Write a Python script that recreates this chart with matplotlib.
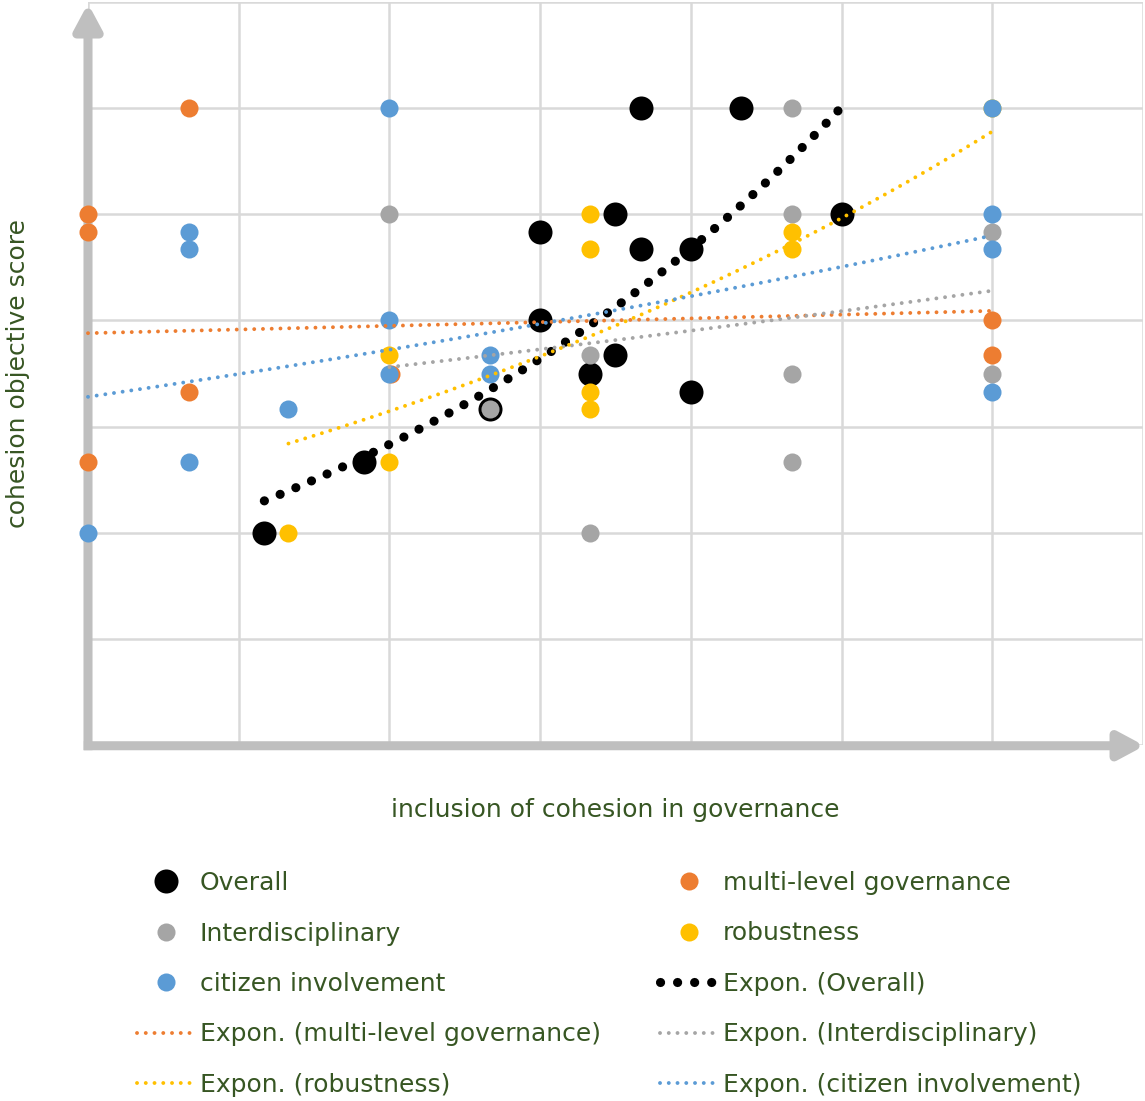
import numpy as np
import matplotlib.pyplot as plt
from matplotlib.lines import Line2D

# ---------------------------------------------------------------
# Data (both axes in units of 1/6)
# ---------------------------------------------------------------
overall_x = [1.17, 1.83, 3.0, 3.0, 3.33, 3.5, 3.5, 3.67, 3.67, 4.0, 4.0, 4.33, 5.0, 2.67]
overall_y = [2.0, 2.67, 4.83, 4.0, 3.5, 3.67, 5.0, 6.0, 4.67, 4.67, 3.33, 6.0, 5.0, 3.17]

multilevel_x = [0.67, 0.0, 0.0, 0.67, 0.0, 2.01, 6.0, 6.0]
multilevel_y = [6.0, 5.0, 4.83, 3.33, 2.67, 3.5, 4.0, 3.67]

interdisc_x = [4.67, 2.0, 4.67, 6.0, 3.33, 4.67, 6.0, 2.67, 4.67, 3.33]
interdisc_y = [6.0, 5.0, 5.0, 4.83, 3.67, 3.5, 3.5, 3.17, 2.67, 2.0]

robust_x = [3.33, 3.33, 4.67, 4.67, 2.0, 3.33, 3.33, 2.0, 1.33, 6.0]
robust_y = [5.0, 4.67, 4.83, 4.67, 3.67, 3.33, 3.17, 2.67, 2.0, 6.0]

citizen_x = [2.0, 6.0, 0.67, 0.67, 6.0, 6.0, 2.0, 2.0, 2.67, 2.67, 1.33, 0.67, 0.0, 6.0]
citizen_y = [6.0, 6.0, 4.83, 4.67, 5.0, 4.67, 4.0, 3.5, 3.67, 3.5, 3.17, 2.67, 2.0, 3.33]

series_names = ["Overall", "multi-level governance", "Interdisciplinary",
                "robustness", "citizen involvement"]
series_x = [overall_x, multilevel_x, interdisc_x, robust_x, citizen_x]
series_y = [overall_y, multilevel_y, interdisc_y, robust_y, citizen_y]
series_colors = ["#000000", "#ED7D31", "#A5A5A5", "#FFC000", "#5B9BD5"]

# exponential trendlines as shown in the chart (start / end values, same series order)
trend_x0 = [1.17, 0.0, 2.0, 1.33, 0.0]
trend_x1 = [5.0, 6.0, 6.0, 6.0, 6.0]
trend_y0 = [2.30, 3.88, 3.56, 2.84, 3.28]
trend_y1 = [6.01, 4.09, 4.28, 5.78, 4.80]

text_color = "#375623"
grid_color = "#D9D9D9"
axis_color = "#BFBFBF"

W, H = 1145, 1101
fig = plt.figure(figsize=(W / 100, H / 100), dpi=100)
ax = fig.add_axes([88 / W, (H - 745) / H, (1143 - 88) / W, (745 - 2) / H])
ax.set_xlim(0, 7)
ax.set_ylim(0, 7)
ax.set_xticks(range(8))
ax.set_yticks(range(8))
ax.tick_params(length=0, labelbottom=False, labelleft=False)
ax.grid(True, color=grid_color, linewidth=1.8)
ax.set_axisbelow(True)
for sp in ax.spines.values():
    sp.set_visible(False)

# axis arrows
arrow_kw = dict(arrowstyle="-|>,head_length=0.58,head_width=0.31", color=axis_color,
                lw=6.5, shrinkA=0, shrinkB=0, mutation_scale=26, capstyle="butt",
                joinstyle="round")
ax.annotate("", xy=(0, 0.998), xytext=(0, -0.007), xycoords="axes fraction",
            arrowprops=arrow_kw, annotation_clip=False, zorder=1)
ax.annotate("", xy=(1.0015, -0.001), xytext=(-0.004, -0.001), xycoords="axes fraction",
            arrowprops=arrow_kw, annotation_clip=False, zorder=1)


def trend_style(name):
    if name == "Overall":
        return dict(lw=6.6, gap=1.85)
    return dict(lw=2.8, gap=2.24)


# scatter points
for i, (name, xs, ys, col) in enumerate(zip(series_names, series_x, series_y, series_colors)):
    size = 17.3 if name == "Overall" else 13.0
    ax.plot(xs, ys, ls="none", marker="o", markersize=size, color=col,
            markeredgewidth=0, clip_on=False, zorder=3 + i)

# exponential trendlines
for i, (name, col) in enumerate(zip(series_names, series_colors)):
    xfit = np.linspace(trend_x0[i], trend_x1[i], 300)
    yfit = np.geomspace(trend_y0[i], trend_y1[i], 300)
    st = trend_style(name)
    ax.plot(xfit, yfit, color=col, lw=st["lw"], ls=(0, (0.01, st["gap"])),
            dash_capstyle="round", clip_on=False, zorder=10 + i)

# axis titles
fig.text(18 / W, 1 - 373 / H, "cohesion objective score", rotation=90,
         ha="center", va="center", fontsize=18, color=text_color)
fig.text(615 / W, 1 - 810 / H, "inclusion of cohesion in governance",
         ha="center", va="center", fontsize=18, color=text_color)

# legend handles
handles = []
labels = []
for name, col in zip(series_names, series_colors):
    size = 17.3 if name == "Overall" else 13.0
    handles.append(Line2D([], [], ls="none", marker="o", markersize=size, color=col,
                          markeredgewidth=0))
    labels.append(name)
for name, col in zip(series_names, series_colors):
    st = trend_style(name)
    handles.append(Line2D([], [], color=col, lw=st["lw"], ls=(0, (0.01, st["gap"])),
                          dash_capstyle="round"))
    labels.append("Expon. (" + name + ")")

# Excel orders entries row by row in two columns
left_idx = [0, 2, 4, 6, 8]
right_idx = [1, 3, 5, 7, 9]
leg_kw = dict(loc="upper left", frameon=False, fontsize=18, labelcolor=text_color,
              handlelength=2.32, handletextpad=0.2, labelspacing=1.06,
              borderpad=0, borderaxespad=0)
fig.legend([handles[i] for i in left_idx], [labels[i] for i in left_idx],
           bbox_to_anchor=(137 / W, 1 - 871 / H), **leg_kw)
fig.legend([handles[i] for i in right_idx], [labels[i] for i in right_idx],
           bbox_to_anchor=(660 / W, 1 - 871 / H), **leg_kw)

fig.savefig("out.png", dpi=100)
